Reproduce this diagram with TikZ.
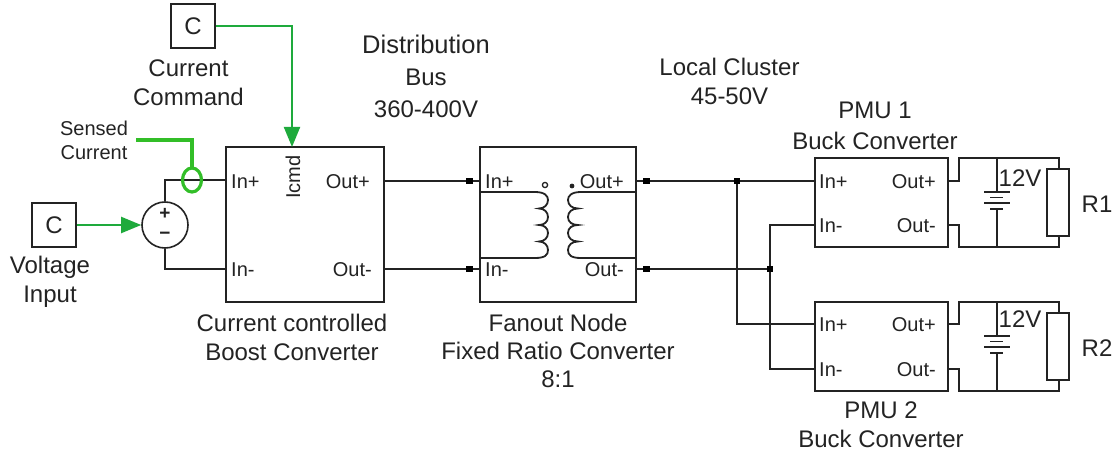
\documentclass[tikz,border=0pt]{standalone}
\usepackage{fontspec}
\setmainfont{Liberation Sans}
\usetikzlibrary{arrows.meta}
\definecolor{wirec}{RGB}{35,35,35}
\definecolor{sense}{RGB}{50,190,40}
\definecolor{cmdg}{RGB}{30,170,60}
\tikzset{
  x=1pt,y=-1pt,
  wire/.style={draw=wirec,line width=1.8pt},
  blockbox/.style={draw=wirec,line width=1.8pt,fill=white,inner sep=0pt,outer sep=0pt,anchor=north west},
  lab/.style={font=\fontsize{24}{29}\selectfont,text=wirec,align=center,inner sep=0pt},
  tight/.style={font=\fontsize{24}{28}\selectfont,text=wirec,align=center,inner sep=0pt},
  biglab/.style={font=\fontsize{24}{32}\selectfont,text=wirec,align=center,inner sep=0pt},
  port/.style={font=\fontsize{20}{24}\selectfont,text=wirec,inner sep=0pt},
  small/.style={font=\fontsize{20}{24}\selectfont,text=wirec,align=center,inner sep=0pt},
  dotj/.style={fill=black,minimum size=6.5pt,inner sep=0pt,draw=none,rectangle},
  cbox/.style={draw=wirec,line width=1.6pt,minimum size=44pt,inner sep=0pt,font=\fontsize{24}{28}\selectfont,text=wirec},
  greenarrow/.style={draw=cmdg,line width=2pt,-{Triangle[length=20pt,width=16pt]}},
}
\begin{document}
\begin{tikzpicture}
\useasboundingbox (0,0) rectangle (1113,457);
% blocks
\node[blockbox,minimum width=158pt,minimum height=155pt] (boost) at (226,147) {};
\node[blockbox,minimum width=156pt,minimum height=155pt] (fan) at (480,147) {};
\node[blockbox,minimum width=133pt,minimum height=89pt] (pmuA) at (815,158) {};
\node[blockbox,minimum width=133pt,minimum height=89pt] (pmuB) at (815,302) {};
\node[cbox] (cmd) at (193,26) {C};
\node[cbox] (volt) at (54,225) {C};
\node[draw=wirec,line width=1.6pt,circle,minimum size=46pt,inner sep=0pt] (src) at (165,225) {};
\node[font=\fontsize{19}{19}\selectfont\bfseries,inner sep=0pt,text=wirec] (splus) at (165,214) {+};
\node[font=\fontsize{19}{19}\selectfont\bfseries,inner sep=0pt,text=wirec] (sminus) at (165,236) {−};
% named points
\coordinate (bip) at (226,180);
\coordinate (bim) at (226,269);
\coordinate (bop) at (384,181);
\coordinate (bom) at (384,269);
\node[dotj] (fip) at (469.5,181) {};
\node[dotj] (fim) at (469.5,269) {};
\node[dotj] (fop) at (646.5,181) {};
\node[dotj] (fom) at (646.5,269) {};
\node[dotj] (ja) at (737,181) {};
\node[dotj] (jb) at (770,269) {};
% main wires
\draw[wire] (src.north) |- (bip);
\draw[wire] (src.south) |- (bim);
\draw[wire] (bop) -- (fip) -- (480,181);
\draw[wire] (bom) -- (fim) -- (480,269);
\draw[wire] (636,181) -- (fop) -- (ja) -- (815,181);
\draw[wire] (636,269) -- (fom) -- (jb);
\draw[wire] (ja) |- (815,324);
\draw[wire] (815,225) -| (jb) |- (815,369);
% transformer
\draw[wire] (480,192) -- (535,192)
  .. controls (545,192) and (548,196) .. (548,200)
  .. controls (548,205) and (544,208.5) .. (539,208.5)
  .. controls (544,208.5) and (548,212) .. (548,217)
  .. controls (548,222) and (544,225) .. (539,225)
  .. controls (544,225) and (548,228) .. (548,233)
  .. controls (548,238) and (544,241.5) .. (539,241.5)
  .. controls (544,241.5) and (548,245) .. (548,250)
  .. controls (548,255) and (545,258) .. (535,258) -- (480,258);
\draw[wire] (636,192) -- (581,192)
  .. controls (571,192) and (568,196) .. (568,200)
  .. controls (568,205) and (572,208.5) .. (578,208.5)
  .. controls (572,208.5) and (568,212) .. (568,217)
  .. controls (568,222) and (572,225) .. (578,225)
  .. controls (572,225) and (568,228) .. (568,233)
  .. controls (568,238) and (572,241.5) .. (578,241.5)
  .. controls (572,241.5) and (568,245) .. (568,250)
  .. controls (568,255) and (571,258) .. (581,258) -- (636,258);
\draw[wirec,line width=1.3pt] (545,185) circle[radius=2.6];
\fill[wirec] (572,186) circle[radius=2.4];
% PMU outputs
\foreach \t/\ya/\yb/\yc in {158/181/225/247,302/324/369/391}{
  \draw[wire] (948,\ya) -- (959,\ya) -- (959,\t) -- (1059,\t) -- (1059,\t+11);
  \draw[wire] (948,\yb) -- (959,\yb) -- (959,\yc) -- (1059,\yc) -- (1059,\t+78);
  \draw[wire] (1047,\t+11) rectangle (1069,\t+78);
  \draw[wire] (997,\t) -- (997,\t+34);
  \draw[wire] (997,\t+51) -- (997,\yc);
  \draw[wire] (984,\t+34) -- (1010,\t+34);
  \draw[wire] (990,\t+39.5) -- (1003,\t+39.5);
  \draw[wire] (984,\t+45) -- (1010,\t+45);
  \draw[wire] (990,\t+51) -- (1003,\t+51);
}
% green
\draw[greenarrow] (cmd.east) -| (292,147);
\draw[greenarrow] (volt.east) -- (src.west);
\draw[draw=sense,line width=3.2pt] (136,140) -| (192,168);
\draw[draw=sense,line width=3.2pt] (192,180) ellipse[x radius=9.5,y radius=12];
% port labels
\node[port,anchor=west] at (231,182) {In+};
\node[port,anchor=west] at (231,270) {In-};
\node[port,anchor=east] at (370,182) {Out+};
\node[port,anchor=east] at (372,270) {Out-};
\node[port,anchor=center,rotate=90] at (293,177) {Icmd};
\node[port,anchor=west] at (485,182) {In+};
\node[port,anchor=west] at (485,270) {In-};
\node[port,anchor=east] at (624,182) {Out+};
\node[port,anchor=east] at (624,270) {Out-};
\node[port,anchor=west] at (819,182) {In+};
\node[port,anchor=west] at (819,226) {In-};
\node[port,anchor=east] at (936,182) {Out+};
\node[port,anchor=east] at (936,226) {Out-};
\node[port,anchor=west] at (819,325) {In+};
\node[port,anchor=west] at (819,370) {In-};
\node[port,anchor=east] at (936,325) {Out+};
\node[port,anchor=east] at (936,370) {Out-};
% labels
\node[lab] at (188.5,82.5) {Current\\Command};
\node[small] at (94,140) {Sensed\\Current};
\node[lab] at (50,282) {Voltage\\Input};
\node[biglab] at (426,76) {{\fontsize{25.5}{32}\selectfont Distribution}\\Bus\\360-400V};
\node[lab] at (729.5,81.5) {Local Cluster\\45-50V};
\node[font=\fontsize{24}{31}\selectfont,text=wirec,align=center,inner sep=0pt] at (875,126) {PMU 1\\Buck Converter};
\node[lab] at (292,337) {Current controlled\\Boost Converter};
\node[tight] at (558,351) {Fanout Node\\Fixed Ratio Converter\\8:1};
\node[lab] at (881,425) {PMU 2\\Buck Converter};
\node[font=\fontsize{24}{28}\selectfont,text=wirec,inner sep=0pt] at (1020,178) {12V};
\node[font=\fontsize{24}{28}\selectfont,text=wirec,inner sep=0pt] at (1020,319) {12V};
\node[lab] at (1097,204) {R1};
\node[lab] at (1097,348) {R2};
\end{tikzpicture}
\end{document}
